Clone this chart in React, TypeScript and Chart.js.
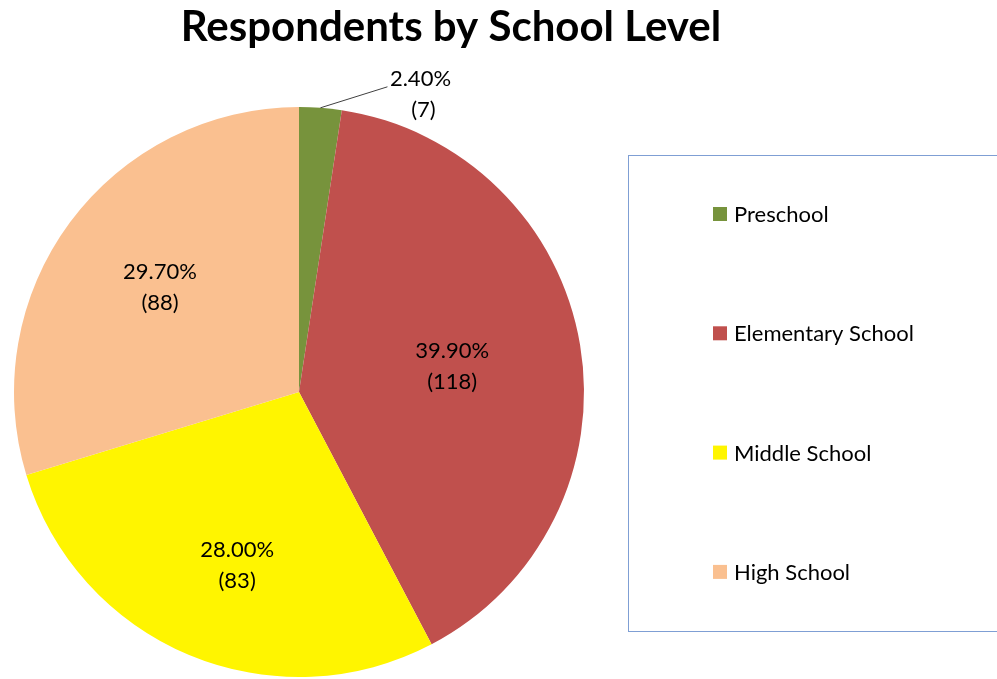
import React, { useEffect, useRef } from "react";
import { Chart, registerables } from "chart.js";

Chart.register(...registerables);

const categories = ["Preschool", "Elementary School", "Middle School", "High School"];
const percentValues = [2.4, 39.9, 28.0, 29.7];
const counts = [7, 118, 83, 88];
const sliceColors = ["#77933C", "#C0504D", "#FFF500", "#FAC090"];
const chartTitle = "Respondents by School Level";

const FONT = "Lato, 'Open Sans', sans-serif";

const overlayPlugin = {
  id: "overlay",
  afterDatasetsDraw(chart: any) {
    const ctx = chart.ctx;
    const meta = chart.getDatasetMeta(0);
    const fracs = [1, 0.545, 0.645, 0.62];
    const nudges = [[0, 0], [0, 0], [9, 3], [3, 0]];
    ctx.save();
    ctx.fillStyle = "#000";
    ctx.font = `22px ${FONT}`;
    ctx.textAlign = "center";
    ctx.textBaseline = "middle";
    meta.data.forEach((arc: any, i: number) => {
      const { x, y, startAngle, endAngle, outerRadius } = arc.getProps(
        ["x", "y", "startAngle", "endAngle", "outerRadius"],
        true
      );
      const mid = (startAngle + endAngle) / 2;
      const pct = percentValues[i].toFixed(2) + "%";
      const cnt = "(" + counts[i] + ")";
      if (i === 0) {
        const ex = x + Math.cos(mid) * outerRadius;
        const ey = y + Math.sin(mid) * outerRadius;
        ctx.strokeStyle = "#404040";
        ctx.lineWidth = 1;
        ctx.beginPath();
        ctx.moveTo(ex, ey);
        ctx.lineTo(ex + 67, ey - 21);
        ctx.stroke();
        ctx.fillText(pct, ex + 100, ey - 29);
        ctx.fillText(cnt, ex + 103, ey + 2);
      } else {
        const r = outerRadius * fracs[i];
        const cx = x + Math.cos(mid) * r + nudges[i][0];
        const cy = y + Math.sin(mid) * r + nudges[i][1];
        ctx.fillText(pct, cx, cy - 15);
        ctx.fillText(cnt, cx, cy + 16);
      }
    });
    ctx.restore();
  },
  afterDraw(chart: any) {
    const ctx = chart.ctx;
    ctx.save();
    ctx.fillStyle = "#000";
    ctx.font = `bold 42px ${FONT}`;
    ctx.textAlign = "center";
    ctx.textBaseline = "middle";
    ctx.fillText(chartTitle, 451, 27);
    ctx.strokeStyle = "#7F9FD4";
    ctx.lineWidth = 1;
    ctx.strokeRect(628.5, 155.5, 400, 476);
    ctx.font = `22px ${FONT}`;
    ctx.textAlign = "left";
    categories.forEach((label, i) => {
      const cy = 214 + i * 119.3;
      ctx.fillStyle = sliceColors[i];
      ctx.fillRect(713, cy - 7, 14, 14);
      ctx.fillStyle = "#000";
      ctx.fillText(label, 734, cy + 1);
    });
    ctx.restore();
  },
};

export default function App() {
  const canvasRef = useRef<HTMLCanvasElement | null>(null);
  useEffect(() => {
    document.body.style.margin = "0";
    const canvas = canvasRef.current!;
    const chart = new Chart(canvas, {
      type: "pie",
      data: {
        labels: categories,
        datasets: [
          {
            data: percentValues,
            backgroundColor: sliceColors,
            borderWidth: 0,
          },
        ],
      },
      options: {
        responsive: false,
        animation: false,
        layout: { padding: { left: 14, right: 413, top: 107, bottom: 2 } },
        plugins: {
          legend: { display: false },
          title: { display: false },
          tooltip: { enabled: false },
        },
      },
      plugins: [overlayPlugin],
    });
    if ((document as any).fonts) {
      (document as any).fonts.ready.then(() => chart.update());
    }
    return () => chart.destroy();
  }, []);
  return (
    <div style={{ width: 997, height: 679, background: "#fff" }}>
      <canvas ref={canvasRef} width={997} height={679} />
    </div>
  );
}
